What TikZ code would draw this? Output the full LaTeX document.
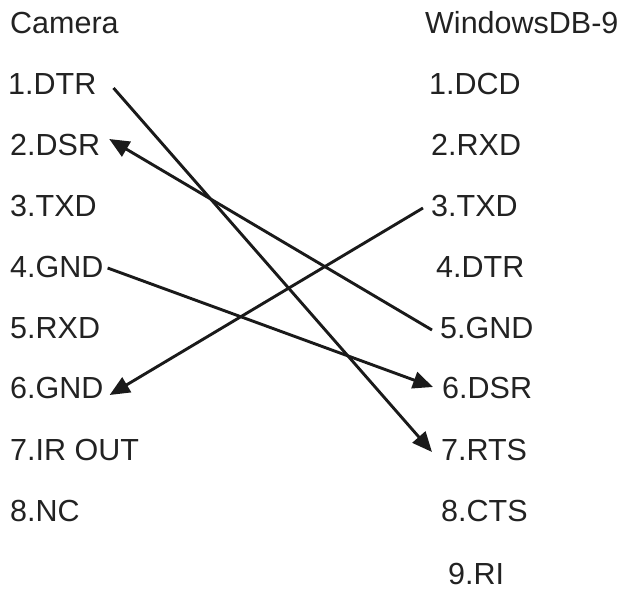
\documentclass[tikz,border=0pt]{standalone}
\usepackage{fontspec}
\setmainfont{Liberation Sans}
\usetikzlibrary{arrows.meta,calc}
\definecolor{txt}{HTML}{222222}
\definecolor{wire}{HTML}{1A1A1A}
\begin{document}
\begin{tikzpicture}[x=1pt,y=-1pt,
  lbl/.style={anchor=base west,inner sep=0pt,text=txt,font=\fontsize{30.5}{34}\selectfont},
  wirearrow/.style={draw=wire,line width=2.9pt,-{Triangle[length=20pt,width=17pt]}}]
\useasboundingbox (0,0) rectangle (629,590);
% left column (Camera)
\node[lbl] (LH) at (10,33)  {Camera};
\node[lbl] (L1) at (8,94)   {1.DTR};
\node[lbl] (L2) at (10,155) {2.DSR};
\node[lbl] (L3) at (10,216) {3.TXD};
\node[lbl] (L4) at (10,277) {4.GND};
\node[lbl] (L5) at (10,338) {5.RXD};
\node[lbl] (L6) at (10,398) {6.GND};
\node[lbl] (L7) at (10,460) {7.IR OUT};
\node[lbl] (L8) at (10,521) {8.NC};
% right column (WindowsDB-9)
\node[lbl] (RH) at (425,33)  {WindowsDB-9};
\node[lbl] (R1) at (429,94)  {1.DCD};
\node[lbl] (R2) at (431,155) {2.RXD};
\node[lbl] (R3) at (431,216) {3.TXD};
\node[lbl] (R4) at (436,277) {4.DTR};
\node[lbl] (R5) at (440,338) {5.GND};
\node[lbl] (R6) at (442,398) {6.DSR};
\node[lbl] (R7) at (441,460) {7.RTS};
\node[lbl] (R8) at (441,521) {8.CTS};
\node[lbl] (R9) at (448,584) {9.RI};
% connectors
\draw[wirearrow] ($(L1.base east)+(17,-6)$) -- ($(R7.base west)+(-9,-8)$);
\draw[wirearrow] ($(R5.base west)+(-8,-8)$) -- ($(L2.base east)+(9,-16)$);
\draw[wirearrow] ($(R3.base west)+(-8,-8)$) -- ($(L6.base east)+(6,-3)$);
\draw[wirearrow] ($(L4.base east)+(4,-9)$) -- ($(R6.base west)+(-9,-11)$);
\end{tikzpicture}
\end{document}
